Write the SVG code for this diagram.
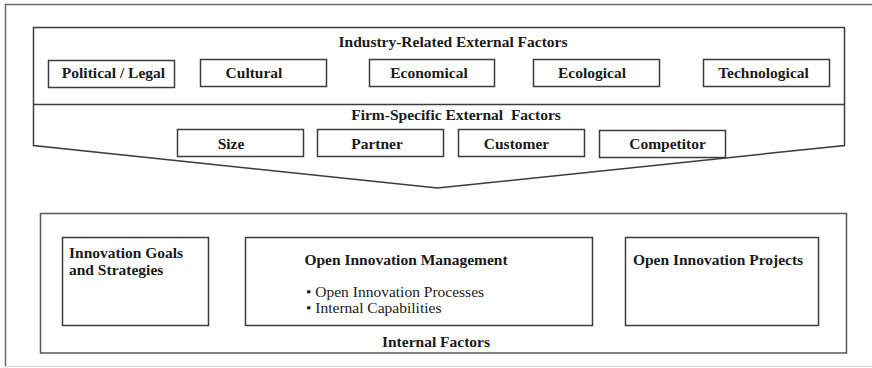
<svg xmlns="http://www.w3.org/2000/svg" width="872" height="368" viewBox="0 0 872 368">
<style>
.frame{fill:none;stroke:#6a6a6a;stroke-width:1.5}
.box{fill:#fff;stroke:#3c3c3c;stroke-width:1.5}
.t{font-family:"Liberation Serif","Times New Roman",serif;font-weight:bold;font-size:15.5px;fill:#1a1a1a}
.r{font-family:"Liberation Serif","Times New Roman",serif;font-size:15.5px;fill:#1a1a1a}
.c{text-anchor:middle}
</style>
<rect width="872" height="368" fill="#fff"/>
<g id="outer-frame">
<path d="M872,4.5 H5.5 V366.5" class="frame"/>
<path d="M5.5,366.5 H872" fill="none" stroke="#d4d4d4" stroke-width="1.2"/>
</g>
<g id="external-factors">
<path d="M33.5,27.5 H844.5 V145.5 L437.5,188 L33.5,145.5 Z" class="box"/>
<line x1="33.5" y1="104.5" x2="844.5" y2="104.5" stroke="#3c3c3c" stroke-width="1.5"/>
<text x="453" y="47" class="t c">Industry-Related External Factors</text>
<text x="456" y="120" class="t c" xml:space="preserve">Firm-Specific External  Factors</text>
</g>
<g id="political-legal"><rect x="48.5" y="60.5" width="126" height="27" class="box"/><text x="113.5" y="78" class="t c">Political / Legal</text></g>
<g id="cultural"><rect x="200.5" y="59.5" width="126" height="27" class="box"/><text x="254" y="78" class="t c">Cultural</text></g>
<g id="economical"><rect x="369.5" y="59.5" width="125" height="27" class="box"/><text x="429" y="78" class="t c">Economical</text></g>
<g id="ecological"><rect x="533.5" y="59.5" width="126" height="27" class="box"/><text x="592" y="78" class="t c">Ecological</text></g>
<g id="technological"><rect x="703.5" y="59.5" width="126" height="27" class="box"/><text x="763.5" y="78" class="t c">Technological</text></g>
<g id="size"><rect x="177.5" y="129.5" width="126" height="27" class="box"/><text x="231" y="149" class="t c">Size</text></g>
<g id="partner"><rect x="317.5" y="129.5" width="126" height="27" class="box"/><text x="377" y="149" class="t c">Partner</text></g>
<g id="customer"><rect x="458.5" y="129.5" width="126" height="27" class="box"/><text x="516.5" y="149" class="t c">Customer</text></g>
<g id="competitor"><rect x="599.5" y="130.5" width="126" height="27" class="box"/><text x="667.5" y="149" class="t c">Competitor</text></g>
<g id="internal-factors">
<rect x="40.5" y="213.5" width="806" height="139.5" fill="#fff" stroke="#5a5a5a" stroke-width="1.5"/>
<text x="436" y="347" class="t c">Internal Factors</text>
</g>
<g id="innovation-goals">
<rect x="62.5" y="237.5" width="146" height="88" class="box"/>
<text x="69" y="258" class="t">Innovation Goals</text>
<text x="69" y="275" class="t">and Strategies</text>
</g>
<g id="oi-management">
<rect x="245.5" y="237.5" width="347" height="88" class="box"/>
<text x="406" y="265" class="t c">Open Innovation Management</text>
<text x="306" y="297" class="r">• Open Innovation Processes</text>
<text x="306" y="313" class="r">• Internal Capabilities</text>
</g>
<g id="oi-projects">
<rect x="625.5" y="237.5" width="193" height="88" class="box"/>
<text x="718" y="265" class="t c">Open Innovation Projects</text>
</g>
<g id="connectors"></g>
</svg>
